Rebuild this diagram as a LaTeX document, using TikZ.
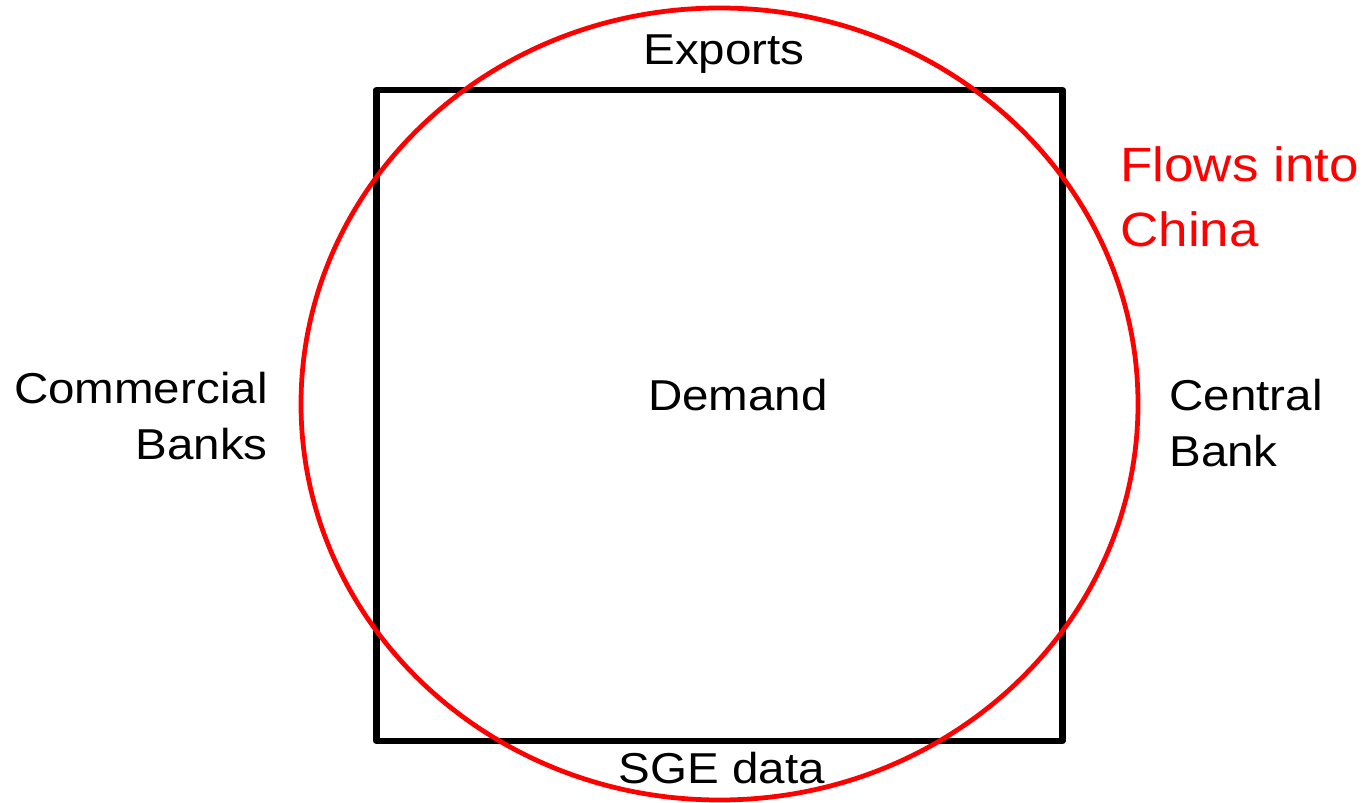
\documentclass[tikz,border=0pt]{standalone}
\usepackage{fontspec}
\setmainfont{Liberation Sans}
\usetikzlibrary{shapes.geometric}
\begin{document}
\begin{tikzpicture}[x=0.02cm,y=-0.02cm,
  lbl/.style={inner sep=0pt, transform shape, xscale=1.1, font=\fontsize{24.6}{32.4}\selectfont},
  redlbl/.style={lbl, text=red, font=\fontsize{27.4}{37}\selectfont},
  boxline/.style={line width=0.13cm, line join=round},
  ringline/.style={draw=red, line width=0.095cm}]
\useasboundingbox (0,0) rectangle (1363,803);
\node[boxline, draw, minimum width=686*0.02cm, minimum height=651*0.02cm, inner sep=0pt] (sq) at (719.5,415.5) {};
\node[ringline, ellipse, minimum width=837*0.02cm, minimum height=792*0.02cm, inner sep=0pt] (ring) at (719.5,404) {};
\node[lbl, anchor=base] (exp) at (724,65) {Exports};
\node[lbl, anchor=base] (sge) at (722,783) {SGE data};
\node[lbl, anchor=base] (dem) at (738,411) {Demand};
\node[lbl, anchor=base east, align=right] (cb) at (268,460) {Commercial\\Banks};
\node[lbl, anchor=base west, align=left] (cen) at (1169,467) {Central\\Bank};
\node[redlbl, anchor=base west, align=left] (flow) at (1120,247) {Flows into\\China};
\end{tikzpicture}
\end{document}
